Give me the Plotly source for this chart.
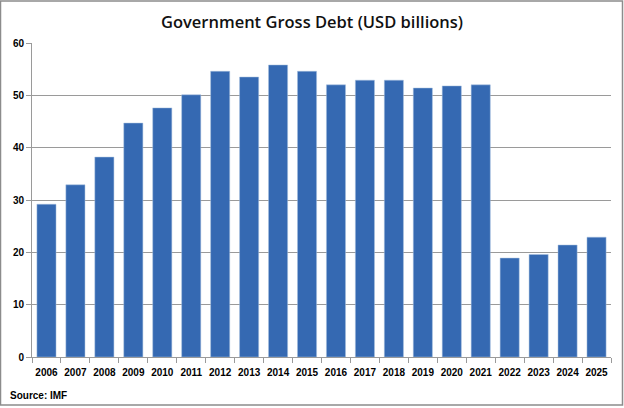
import plotly.graph_objects as go

years = [str(y) for y in range(2006, 2026)]
debt = [29.2, 32.9, 38.2, 44.7, 47.6, 50.1, 54.6, 53.5, 55.8, 54.6,
        52.0, 52.9, 52.9, 51.4, 51.8, 52.0, 18.9, 19.6, 21.4, 22.9]
y_ticks = [0, 10, 20, 30, 40, 50, 60]

fig = go.Figure(go.Bar(
    x=years, y=debt,
    marker=dict(color="#3569b2", line=dict(color="#a9c0de", width=0.5)),
    width=0.66,
))

tick_font = dict(family="Liberation Sans", size=10, color="black", weight="bold")

fig.update_layout(
    width=624, height=408,
    margin=dict(l=32, r=13, t=43, b=51),
    paper_bgcolor="white", plot_bgcolor="white",
    showlegend=False,
    title=dict(text="Government Gross Debt (USD billions)", x=0.5, xanchor="center",
               y=0.945, yanchor="middle",
               font=dict(family="Open Sans", size=16.5, color="#111111", weight=600)),
    font=dict(family="Liberation Sans", size=11, color="black"),
)
fig.update_xaxes(
    type="category", showline=True, linecolor="#9a9a9a", linewidth=1,
    ticks="outside", tickson="boundaries", ticklen=5, tickcolor="#9a9a9a",
    tickangle=0, tickfont=tick_font, showgrid=False, ticklabelstandoff=6,
)
fig.update_yaxes(
    range=[0, 60], tickvals=y_ticks, showline=True, linecolor="#9a9a9a", linewidth=1,
    ticks="outside", ticklen=5, tickcolor="#9a9a9a",
    gridcolor="#9a9a9a", gridwidth=1, zeroline=False, tickfont=tick_font,
)
fig.add_annotation(text="Source: IMF", xref="paper", yref="paper", x=-24/579, y=-31/314,
                   xanchor="left", yanchor="top", showarrow=False,
                   font=dict(family="Liberation Sans", size=10, color="black", weight="bold"))
fig.add_shape(type="rect", xref="paper", yref="paper", x0=-31.5/579, x1=1+11.5/579,
              y0=-48/314, y1=1+42/314, line=dict(color="#8c8c8c", width=1.5))

fig.write_html("out.html")
